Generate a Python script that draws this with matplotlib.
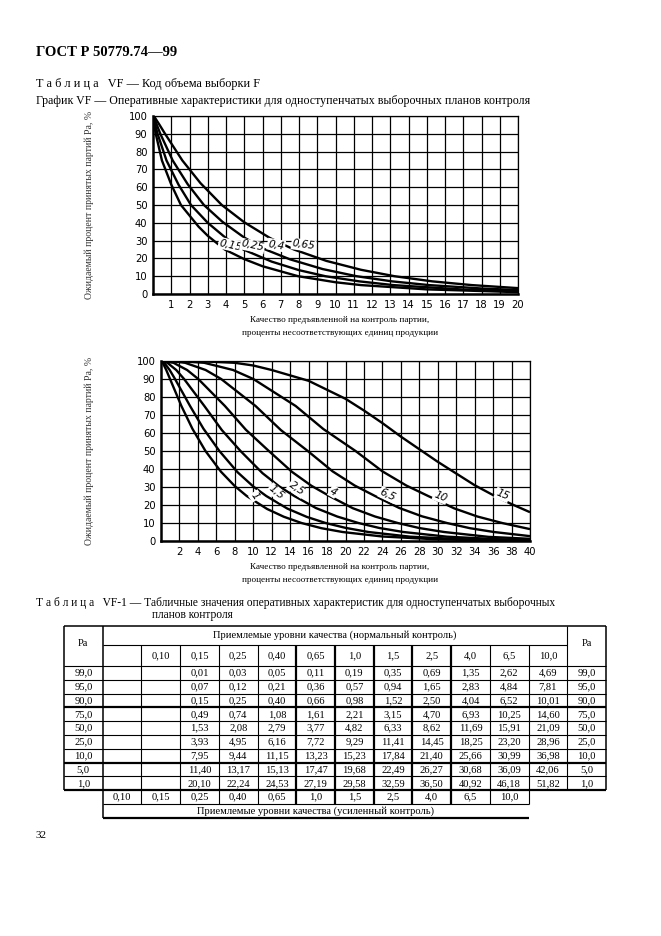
import numpy as np
import matplotlib.pyplot as plt

W, H = 661, 936

# ---------- table VF-1 (p, % nonconforming, for each Pa level) ----------
pa_levels = [99.0, 95.0, 90.0, 75.0, 50.0, 25.0, 10.0, 5.0, 1.0]
aql_labels = ["0,10", "0,15", "0,25", "0,40", "0,65", "1,0", "1,5", "2,5", "4,0", "6,5", "10,0"]
p_015 = [0.01, 0.07, 0.15, 0.49, 1.53, 3.93, 7.95, 11.40, 20.10]
p_025 = [0.03, 0.12, 0.25, 0.74, 2.08, 4.95, 9.44, 13.17, 22.24]
p_040 = [0.05, 0.21, 0.40, 1.08, 2.79, 6.16, 11.15, 15.13, 24.53]
p_065 = [0.11, 0.36, 0.66, 1.61, 3.77, 7.72, 13.23, 17.47, 27.19]
p_10 = [0.19, 0.57, 0.98, 2.21, 4.82, 9.29, 15.23, 19.68, 29.58]
p_15 = [0.35, 0.94, 1.52, 3.15, 6.33, 11.41, 17.84, 22.49, 32.59]
p_25 = [0.69, 1.65, 2.50, 4.70, 8.62, 14.45, 21.40, 26.27, 36.50]
p_40 = [1.35, 2.83, 4.04, 6.93, 11.69, 18.25, 25.66, 30.68, 40.92]
p_65 = [2.62, 4.84, 6.52, 10.25, 15.91, 23.20, 30.99, 36.09, 46.18]
p_100 = [4.69, 7.81, 10.01, 14.60, 21.09, 28.96, 36.98, 42.06, 51.82]

# ---------- chart 1 curves (x = % nonconforming, y = Pa %) ----------
c015_x = [0, 0.01, 0.07, 0.15, 0.49, 1.0, 1.53, 2.5, 3.0, 3.93, 5.0, 6.0, 7.95, 10.0, 11.40, 15.0, 20.10]
c015_y = [100, 99, 95, 90, 75, 61.5, 50, 37.8, 32.7, 25, 19.6, 15.6, 10, 6.6, 5, 2.6, 1]
c025_x = [0, 0.03, 0.12, 0.25, 0.74, 1.4, 2.08, 3.0, 4.0, 4.95, 6.5, 8.0, 9.44, 11.3, 13.17, 17.0, 20.0]
c025_y = [100, 99, 95, 90, 75, 61.4, 50, 40, 31.4, 25, 18.2, 13.4, 10, 7.1, 5, 2.5, 1.5]
c040_x = [0, 0.05, 0.21, 0.40, 1.08, 1.9, 2.79, 3.8, 5.0, 6.16, 7.5, 9.3, 11.15, 13.1, 15.13, 18.0, 20.0]
c040_y = [100, 99, 95, 90, 75, 61.7, 50, 40.6, 31.7, 25, 19.5, 14.0, 10, 7.1, 5, 3.1, 2.2]
c065_x = [0, 0.11, 0.36, 0.66, 1.61, 2.6, 3.77, 5.0, 6.4, 7.72, 9.5, 11.4, 13.23, 15.3, 17.47, 20.0]
c065_y = [100, 99, 95, 90, 75, 62.3, 50, 40.3, 31.5, 25, 18.6, 13.6, 10, 7.1, 5, 3.3]

# ---------- chart 2 curves ----------
c1_x = [0, 0.19, 0.57, 0.98, 2.21, 3.4, 4.82, 6.5, 8.0, 9.29, 11.5, 13.3, 15.23, 17.4, 19.68, 24.0, 29.58, 35.0, 40.0]
c1_y = [100, 99, 95, 90, 75, 62.4, 50, 38.5, 30.5, 25, 17.8, 13.5, 10, 7.1, 5, 2.5, 1, 0.4, 0.2]
c15_x = [0, 0.35, 0.94, 1.52, 3.15, 4.6, 6.33, 8.3, 10.0, 11.41, 13.7, 15.8, 17.84, 20.0, 22.49, 27.0, 32.59, 36.0, 40.0]
c15_y = [100, 99, 95, 90, 75, 62.4, 50, 38.2, 30.3, 25, 18.0, 13.4, 10, 7.3, 5, 2.4, 1, 0.6, 0.3]
c25_x = [0, 0.69, 1.65, 2.50, 4.70, 6.6, 8.62, 11.0, 12.8, 14.45, 16.8, 19.1, 21.40, 23.7, 26.27, 31.0, 36.50, 40.0]
c25_y = [100, 99, 95, 90, 75, 61.6, 50, 37.7, 30.4, 25, 18.3, 13.6, 10, 7.2, 5, 2.4, 1, 0.6]
c4_x = [0, 1.35, 2.83, 4.04, 6.93, 9.2, 11.69, 14.2, 16.3, 18.25, 20.8, 23.2, 25.66, 28.0, 30.68, 35.5, 40.92]
c4_y = [100, 99, 95, 90, 75, 61.8, 50, 38.4, 30.7, 25, 18.2, 13.6, 10, 7.2, 5, 2.3, 1]
c65_x = [0, 1.3, 2.62, 4.84, 6.52, 10.25, 13.0, 15.91, 18.6, 21.0, 23.20, 25.8, 28.3, 30.99, 33.5, 36.09, 40.0]
c65_y = [100, 99.8, 99, 95, 90, 75, 61.6, 50, 38.7, 30.8, 25, 18.4, 13.7, 10, 7.1, 5, 2.7]
c10_x = [0, 2.0, 4.69, 7.81, 10.01, 14.60, 17.6, 21.09, 24.0, 26.6, 28.96, 31.8, 34.3, 36.98, 40.0]
c10_y = [100, 99.9, 99, 95, 90, 75, 62.2, 50, 38.7, 30.8, 25, 18.1, 13.6, 10, 6.6]
c150_x = [0, 4, 8, 10, 12, 14, 16, 18, 20, 22, 24, 26, 28, 30, 32, 34, 36, 38, 40]
c150_y = [100, 99.9, 99, 97.5, 95, 92, 89, 84, 79, 72.5, 65.5, 58, 51, 44, 37.5, 31, 25.5, 20.5, 16]

serif = "Liberation Serif"
tech = "DejaVu Sans"

fig = plt.figure(figsize=(W / 100, H / 100), dpi=100)
fig.patch.set_facecolor("white")

# overlay in pixel coordinates for page text and the table
ov = fig.add_axes([0, 0, 1, 1])
ov.set_xlim(0, W)
ov.set_ylim(H, 0)
ov.axis("off")


def px_rect(left, top, right, bottom):
    return [left / W, 1 - bottom / H, (right - left) / W, (bottom - top) / H]


def chart(rect, xmax, xticks, curves, labels):
    ax = fig.add_axes(px_rect(*rect))
    ax.set_xlim(0, xmax)
    ax.set_ylim(0, 100)
    ax.set_xticks(xticks)
    ax.set_yticks(range(0, 101, 10))
    ax.grid(True, color="black", lw=0.9)
    ax.set_axisbelow(True)
    ax.tick_params(length=0, labelsize=7.2, pad=4)
    for t in ax.get_xticklabels() + ax.get_yticklabels():
        t.set_family(tech)
    for s in ["left", "bottom"]:
        ax.spines[s].set_linewidth(1.8)
    for s in ["top", "right"]:
        ax.spines[s].set_linewidth(0.9)
    for cx, cy in curves:
        ax.plot(cx, cy, color="black", lw=1.7, solid_capstyle="butt", zorder=3)
    for text, x, y, rot in labels:
        ax.text(x, y, text, rotation=rot, ha="center", va="center", fontsize=7.5,
                style="italic", family=tech, zorder=5,
                bbox=dict(fc="white", ec="none", pad=0.6))
    return ax


chart((153, 116, 518, 294), 20, range(1, 21),
      [(c015_x, c015_y), (c025_x, c025_y), (c040_x, c040_y), (c065_x, c065_y)],
      [("0,15", 4.25, 27.5, -12), ("0,25", 5.45, 27.0, -12),
       ("0,4", 6.75, 27.5, -10), ("0,65", 8.25, 27.5, -8)])

chart((161, 361, 530, 541), 40, range(2, 41, 2),
      [(c1_x, c1_y), (c15_x, c15_y), (c25_x, c25_y), (c4_x, c4_y),
       (c65_x, c65_y), (c10_x, c10_y), (c150_x, c150_y)],
      [("1", 10.2, 25.0, -55), ("1,5", 12.5, 27.0, -40), ("2,5", 14.7, 29.0, -35),
       ("4", 18.7, 27.4, -30), ("6,5", 24.6, 25.6, -25), ("10", 30.3, 24.6, -22),
       ("15", 37.0, 25.6, -22)])

# ---------- page text ----------
ov.text(36, 52, "ГОСТ Р 50779.74—99", fontsize=10.5, weight="bold", family=serif, va="center")
ov.text(36, 84, "Т а б л и ц а   VF — Код объема выборки F", fontsize=8.8, family=serif, va="center")
ov.text(36, 101, "График VF — Оперативные характеристики для одноступенчатых выборочных планов контроля",
        fontsize=8.6, family=serif, va="center")

ylab = "Ожидаемый процент принятых партий Ра, %"
xlab1 = "Качество предъявленной на контроль партии,"
xlab2 = "проценты несоответствующих единиц продукции"
for yc, y1 in [(205, 320), (451, 567)]:
    ov.text(89, yc, ylab, rotation=90, fontsize=7, family=serif, color="#333333",
            ha="center", va="center")
    ov.text(340, y1, xlab1, fontsize=6.6, family=serif, ha="center", va="center")
    ov.text(340, y1 + 13, xlab2, fontsize=6.6, family=serif, ha="center", va="center")

ov.text(36, 603, "Т а б л и ц а   VF-1 — Табличные значения оперативных характеристик для одноступенчатых выборочных",
        fontsize=8.3, family=serif, va="center")
ov.text(152, 615, "планов контроля", fontsize=8.3, family=serif, va="center")
ov.text(36, 836, "32", fontsize=8, family=serif, va="center")

# ---------- table ----------
tx = 64 + np.arange(15) * (606 - 64) / 14
top, h1, h2 = 626, 645, 666
rh = 13.8
ry = h2 + np.arange(10) * rh
extra_b = ry[-1] + 14
foot_b = extra_b + 14
thin, thick = 0.8, 1.6

def hline(y, x0, x1, lw=thin):
    ov.plot([x0, x1], [y, y], color="black", lw=lw, solid_capstyle="butt")

def vline(x, y0, y1, lw=thin):
    ov.plot([x, x], [y0, y1], color="black", lw=lw, solid_capstyle="butt")

hline(top, tx[0], tx[14], 1.1)
hline(h1, tx[1], tx[13])
hline(h2, tx[0], tx[14])
for k in range(1, 10):
    hline(ry[k], tx[0], tx[14], thick if k in (3, 7, 9) else thin)
hline(extra_b, tx[1], tx[12])
hline(foot_b, tx[1], tx[12], thick)
vline(tx[0], top, ry[-1], 1.1)
vline(tx[14], top, ry[-1], 1.1)
vline(tx[1], top, foot_b, 1.1)
vline(tx[13], top, ry[-1])
for i in range(2, 13):
    lw = thick if 6 <= i <= 10 else thin
    vline(tx[i], h1, extra_b, lw)

cx = (tx[:-1] + tx[1:]) / 2
fs = 7.6
for xc in (cx[0], cx[13]):
    ov.text(xc, (top + h2) / 2 - 2, "Pa", fontsize=fs, family=serif, ha="center", va="center")
ov.text((tx[1] + tx[13]) / 2, (top + h1) / 2, "Приемлемые уровни качества (нормальный контроль)",
        fontsize=fs, family=serif, ha="center", va="center")
for i, lab in enumerate(aql_labels):
    ov.text(cx[2 + i], (h1 + h2) / 2, lab, fontsize=fs, family=serif, ha="center", va="center")

columns = [p_015, p_025, p_040, p_065, p_10, p_15, p_25, p_40, p_65, p_100]
for r, pa in enumerate(pa_levels):
    yc = ry[r] + rh / 2
    pa_txt = f"{pa:.1f}".replace(".", ",")
    ov.text(cx[0], yc, pa_txt, fontsize=fs, family=serif, ha="center", va="center")
    ov.text(cx[13], yc, pa_txt, fontsize=fs, family=serif, ha="center", va="center")
    for j, col in enumerate(columns):
        ov.text(cx[3 + j], yc, f"{col[r]:.2f}".replace(".", ","), fontsize=fs, family=serif,
                ha="center", va="center")

for i, lab in enumerate(aql_labels):
    ov.text(cx[1 + i], (ry[-1] + extra_b) / 2, lab, fontsize=fs, family=serif, ha="center", va="center")
ov.text((tx[1] + tx[12]) / 2, (extra_b + foot_b) / 2, "Приемлемые уровни качества (усиленный контроль)",
        fontsize=fs, family=serif, ha="center", va="center")

fig.savefig("out.png", dpi=100)
